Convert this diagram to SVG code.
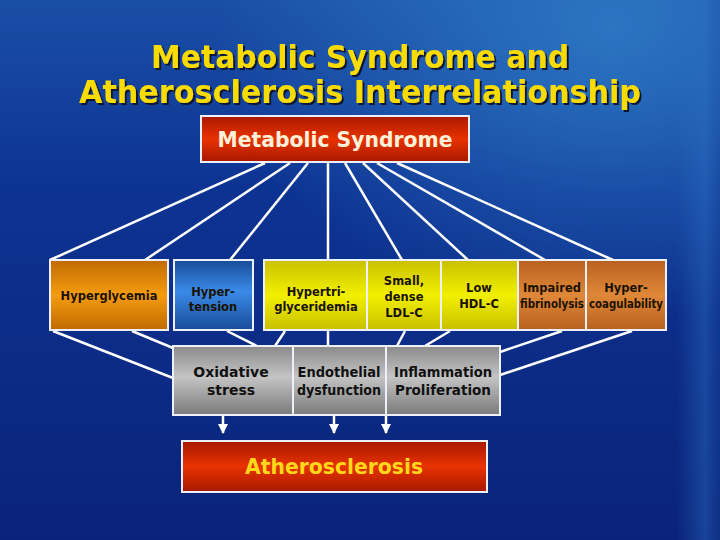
<svg xmlns="http://www.w3.org/2000/svg" width="720" height="540" viewBox="0 0 720 540">
<defs>
<linearGradient id="bg" x1="0" y1="0" x2="0" y2="1">
<stop offset="0" stop-color="#1a4fa6"/>
<stop offset="0.35" stop-color="#0d3392"/>
<stop offset="1" stop-color="#0a237a"/>
</linearGradient>
<radialGradient id="glow" cx="0.85" cy="0.05" r="0.55">
<stop offset="0" stop-color="#2f7cc8" stop-opacity="0.85"/>
<stop offset="1" stop-color="#2f7cc8" stop-opacity="0"/>
</radialGradient>
<linearGradient id="edge" x1="0" y1="0" x2="1" y2="0">
<stop offset="0.94" stop-color="#2a6cc0" stop-opacity="0"/>
<stop offset="0.98" stop-color="#2a6cc0" stop-opacity="0.45"/>
<stop offset="1" stop-color="#1a4aa0" stop-opacity="0.3"/>
</linearGradient>
<linearGradient id="red" x1="0" y1="0" x2="0" y2="1">
<stop offset="0" stop-color="#a81800"/>
<stop offset="0.5" stop-color="#e83200"/>
<stop offset="1" stop-color="#a81800"/>
</linearGradient>
<linearGradient id="orange" x1="0" y1="0" x2="0" y2="1">
<stop offset="0" stop-color="#c06a00"/>
<stop offset="0.5" stop-color="#f59c10"/>
<stop offset="1" stop-color="#c06a00"/>
</linearGradient>
<linearGradient id="blue" x1="0" y1="0" x2="0" y2="1">
<stop offset="0" stop-color="#184c98"/>
<stop offset="0.45" stop-color="#3a8ae8"/>
<stop offset="1" stop-color="#184c98"/>
</linearGradient>
<linearGradient id="yellow" x1="0" y1="0" x2="0" y2="1">
<stop offset="0" stop-color="#c8c000"/>
<stop offset="0.5" stop-color="#f2f000"/>
<stop offset="1" stop-color="#c8c000"/>
</linearGradient>
<linearGradient id="brown" x1="0" y1="0" x2="0" y2="1">
<stop offset="0" stop-color="#b86020"/>
<stop offset="0.5" stop-color="#e08838"/>
<stop offset="1" stop-color="#b86020"/>
</linearGradient>
<linearGradient id="gray" x1="0" y1="0" x2="0" y2="1">
<stop offset="0" stop-color="#8a8a8a"/>
<stop offset="0.45" stop-color="#c4c4c4"/>
<stop offset="1" stop-color="#7a7a7a"/>
</linearGradient>
<filter id="shadow" x="-5%" y="-20%" width="110%" height="140%">
<feDropShadow dx="2" dy="2" stdDeviation="0.6" flood-color="#0a1230" flood-opacity="1"/>
</filter>
<marker id="arr" viewBox="0 0 10 10" refX="9" refY="5" markerWidth="10" markerHeight="10" markerUnits="userSpaceOnUse" orient="auto">
<path d="M0,0 L10,5 L0,10 Z" fill="#ffffff"/>
</marker>
<style>
.title{font-family:"DejaVu Sans","Liberation Sans",sans-serif;font-weight:bold;font-size:32px;fill:#f8dc00;text-anchor:middle}
.box{stroke:#eef0f8;stroke-width:2}
.lbl{font-family:"DejaVu Sans","Liberation Sans",sans-serif;font-weight:bold;font-size:11.5px;fill:#1a1200;text-anchor:middle}
.glbl{font-family:"DejaVu Sans","Liberation Sans",sans-serif;font-weight:bold;font-size:14px;fill:#111;text-anchor:middle}
.big{font-family:"DejaVu Sans","Liberation Sans",sans-serif;font-weight:bold;font-size:21px;text-anchor:middle}
.con{stroke:#ffffff;stroke-width:2.5;fill:none}
</style>
</defs>
<rect width="720" height="540" fill="url(#bg)"/>
<rect width="720" height="540" fill="url(#glow)"/>
<rect width="720" height="540" fill="url(#edge)"/>

<g id="title" filter="url(#shadow)">
<text class="title" x="360" y="68" textLength="418" lengthAdjust="spacingAndGlyphs">Metabolic Syndrome and</text>
<text class="title" x="360" y="103" textLength="562" lengthAdjust="spacingAndGlyphs">Atherosclerosis Interrelationship</text>
</g>

<g id="connectors">
<line class="con" x1="265" y1="163" x2="50" y2="260"/>
<line class="con" x1="290" y1="163" x2="145" y2="260"/>
<line class="con" x1="308" y1="163" x2="230" y2="260"/>
<line class="con" x1="328" y1="163" x2="328" y2="260"/>
<line class="con" x1="345" y1="163" x2="402" y2="260"/>
<line class="con" x1="363" y1="163" x2="468" y2="260"/>
<line class="con" x1="377" y1="163" x2="545" y2="260"/>
<line class="con" x1="397" y1="163" x2="613" y2="260"/>
<line class="con" x1="53" y1="331" x2="173" y2="378"/>
<line class="con" x1="132" y1="331" x2="173" y2="348"/>
<line class="con" x1="227" y1="331" x2="257" y2="346"/>
<line class="con" x1="285" y1="331" x2="275" y2="346"/>
<line class="con" x1="328" y1="331" x2="328" y2="346"/>
<line class="con" x1="405" y1="331" x2="397" y2="346"/>
<line class="con" x1="450" y1="331" x2="425" y2="346"/>
<line class="con" x1="562" y1="331" x2="500" y2="352"/>
<line class="con" x1="632" y1="331" x2="500" y2="375"/>
<line class="con" x1="223" y1="415" x2="223" y2="433" marker-end="url(#arr)"/>
<line class="con" x1="334" y1="415" x2="334" y2="433" marker-end="url(#arr)"/>
<line class="con" x1="386" y1="415" x2="386" y2="433" marker-end="url(#arr)"/>
</g>

<g id="metabolic-syndrome">
<rect class="box" x="201" y="116" width="268" height="46" fill="url(#red)"/>
<text class="big" x="335" y="147" fill="#fff0d8" textLength="235" lengthAdjust="spacingAndGlyphs">Metabolic Syndrome</text>
</g>

<g id="hyperglycemia">
<rect class="box" x="50" y="260" width="118" height="70" fill="url(#orange)"/>
<text class="lbl" x="109" y="300">Hyperglycemia</text>
</g>
<g id="hypertension">
<rect class="box" x="174" y="260" width="79" height="70" fill="url(#blue)"/>
<text class="lbl" x="213" y="296">Hyper-</text>
<text class="lbl" x="213" y="311">tension</text>
</g>
<g id="hypertriglyceridemia">
<rect class="box" x="264" y="260" width="103" height="70" fill="url(#yellow)"/>
<text class="lbl" x="316" y="296">Hypertri-</text>
<text class="lbl" x="316" y="311">glyceridemia</text>
</g>
<g id="small-dense-ldl">
<rect class="box" x="367" y="260" width="74" height="70" fill="url(#yellow)"/>
<text class="lbl" x="404" y="285">Small,</text>
<text class="lbl" x="404" y="301">dense</text>
<text class="lbl" x="404" y="317">LDL-C</text>
</g>
<g id="low-hdl">
<rect class="box" x="441" y="260" width="77" height="70" fill="url(#yellow)"/>
<text class="lbl" x="479" y="292">Low</text>
<text class="lbl" x="479" y="308">HDL-C</text>
</g>
<g id="impaired-fibrinolysis">
<rect class="box" x="518" y="260" width="68" height="70" fill="url(#brown)"/>
<text class="lbl" x="552" y="292">Impaired</text>
<text class="lbl" x="552" y="308" textLength="64" lengthAdjust="spacingAndGlyphs">fibrinolysis</text>
</g>
<g id="hypercoagulability">
<rect class="box" x="586" y="260" width="80" height="70" fill="url(#brown)"/>
<text class="lbl" x="626" y="292">Hyper-</text>
<text class="lbl" x="626" y="308" textLength="74" lengthAdjust="spacingAndGlyphs">coagulability</text>
</g>

<g id="oxidative-stress">
<rect class="box" x="173" y="346" width="120" height="69" fill="url(#gray)"/>
<text class="glbl" x="231" y="377">Oxidative</text>
<text class="glbl" x="231" y="395">stress</text>
</g>
<g id="endothelial-dysfunction">
<rect class="box" x="293" y="346" width="93" height="69" fill="url(#gray)"/>
<text class="glbl" x="339" y="377" textLength="83" lengthAdjust="spacingAndGlyphs">Endothelial</text>
<text class="glbl" x="339" y="395" textLength="84" lengthAdjust="spacingAndGlyphs">dysfunction</text>
</g>
<g id="inflammation-proliferation">
<rect class="box" x="386" y="346" width="114" height="69" fill="url(#gray)"/>
<text class="glbl" x="443" y="377" textLength="98" lengthAdjust="spacingAndGlyphs">Inflammation</text>
<text class="glbl" x="443" y="395" textLength="96" lengthAdjust="spacingAndGlyphs">Proliferation</text>
</g>

<g id="atherosclerosis">
<rect class="box" x="182" y="441" width="305" height="51" fill="url(#red)"/>
<text class="big" x="334" y="474" fill="#ffd81a" textLength="178" lengthAdjust="spacingAndGlyphs">Atherosclerosis</text>
</g>
</svg>
